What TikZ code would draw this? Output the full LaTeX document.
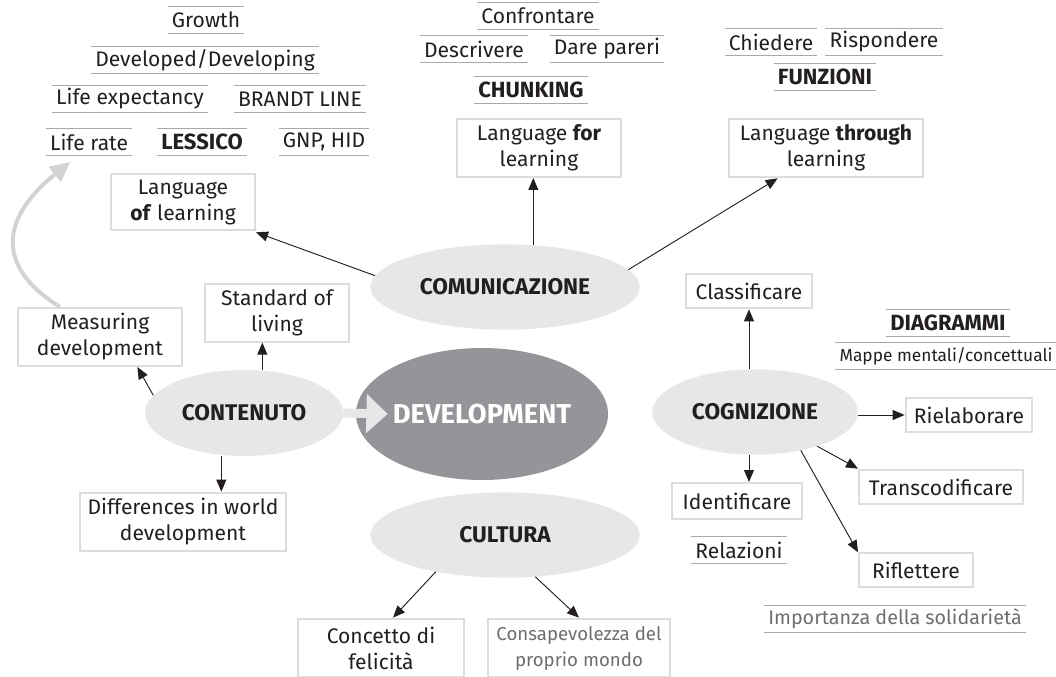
\documentclass[tikz,border=0pt]{standalone}
\usepackage{fontspec}
\setmainfont{Fira Sans}
\usetikzlibrary{positioning,arrows.meta,shapes.geometric}

\definecolor{bubble}{HTML}{E6E7E8}
\definecolor{core}{HTML}{939598}
\definecolor{boxline}{HTML}{DCDDDE}
\definecolor{rulegray}{HTML}{A7A9AC}
\definecolor{curvegray}{HTML}{D1D3D4}
\definecolor{ink}{HTML}{231F20}
\definecolor{softink}{HTML}{6D6E71}

\newcommand\mapfont{\fontsize{15.8}{19.5}\selectfont}
\newcommand\mapbold{\fontsize{16.5}{19.5}\selectfont\bfseries}

\begin{document}
\begin{tikzpicture}[
  x=0.75pt, y=-0.75pt,
  font=\mapfont, text=ink,
  bubblenode/.style={ellipse, fill=bubble, inner sep=0pt, font=\fontsize{17}{20}\selectfont\bfseries},
  corenode/.style={ellipse, fill=core, inner sep=0pt, text=white, font=\fontsize{20.5}{24}\selectfont\bfseries},
  boxnode/.style={rectangle, draw=boxline, line width=1.5pt, align=center, inner sep=1pt},
  wordnode/.style={inner xsep=3pt, inner ysep=0pt, minimum height=19.5pt},
  rule/.style={draw=rulegray, line width=0.6pt},
  arrow/.style={draw=ink, line width=0.7pt, -{Triangle[length=9pt,width=7.5pt]}},
  fatarrow/.style={draw=bubble, line width=6.75pt, -{Triangle[length=16pt,width=28.5pt]}},
  curvearrow/.style={draw=curvegray, line width=3pt, -{Triangle[length=15pt,width=14pt]}}
]
\useasboundingbox (0,0) rectangle (1056,677);

%Ellipses
\node[bubblenode, minimum width=202pt, minimum height=64pt] (comm) at (505,287) {COMUNICAZIONE};
\node[bubblenode, minimum width=148.5pt, minimum height=64.5pt] (cont) at (244,413) {CONTENUTO};
\node[bubblenode, minimum width=154pt, minimum height=64pt] (cogn) at (755,412) {COGNIZIONE};
\node[bubblenode, minimum width=202pt, minimum height=64pt] (cult) at (505,535) {CULTURA};
\node[corenode, minimum width=188pt, minimum height=99pt] (dev) at (482,414) {DEVELOPMENT};

%Boxes
\node[boxnode, minimum width=108pt, minimum height=42pt] (langof) at (183,202) {Language\\\textbf{of} learning};
\node[boxnode, minimum width=123pt, minimum height=43.5pt] (langfor) at (539,148) {Language \textbf{for}\\learning};
\node[boxnode, minimum width=145pt, minimum height=44pt] (langthr) at (826,148) {Language \textbf{through}\\learning};

\node[boxnode, minimum width=123pt, minimum height=43.5pt] (meas) at (100,337) {Measuring\\development};
\node[boxnode, minimum width=108pt, minimum height=43pt] (std) at (277,313) {Standard of\\living};
\node[boxnode, minimum width=154.5pt, minimum height=44pt] (diff) at (183,522) {Differences in world\\development};

\node[boxnode, minimum width=94.5pt, minimum height=26pt] (class) at (749,291) {Classificare};
\node[boxnode, minimum width=95pt, minimum height=26pt] (riel) at (969,415) {Rielaborare};
\node[boxnode, minimum width=97pt, minimum height=27pt] (ident) at (737,501) {Identificare};
\node[boxnode, minimum width=123pt, minimum height=26pt] (trans) at (941,487) {Transcodificare};
\node[boxnode, minimum width=85.5pt, minimum height=25pt] (rifl) at (916,570) {Riflettere};

\node[boxnode, minimum width=124pt, minimum height=44pt] (conc) at (381,648) {Concetto di\\felicità};
\node[boxnode, minimum width=137pt, minimum height=44pt, text=softink, font=\fontsize{14}{19.5}\selectfont] (consap) at (579,648) {Consapevolezza del\\proprio mondo};

%Words
\node[wordnode] (growth) at (206,20) {Growth};
\node[wordnode] (devdev) at (205,60) {Developed/Developing};
\node[wordnode] (lifeexp) at (130,99) {Life expectancy};
\node[wordnode] (brandt) at (300,99) {BRANDT LINE};
\node[wordnode] (liferate) at (89,142) {Life rate};
\node[wordnode, font=\mapbold] (lessico) at (202,142) {LESSICO};
\node[wordnode] (gnp) at (324,142) {GNP, HID};

\node[wordnode] (confr) at (538,16) {Confrontare};
\node[wordnode] (descr) at (474,49) {Descrivere};
\node[wordnode] (pareri) at (607,49) {Dare pareri};
\node[wordnode, font=\mapbold] (chunk) at (531,90) {CHUNKING};

\node[wordnode] (chied) at (771,42) {Chiedere};
\node[wordnode] (risp) at (884,42) {Rispondere};
\node[wordnode, font=\mapbold] (funz) at (825,77) {FUNZIONI};

\node[wordnode, font=\mapbold] (diagr) at (948,323) {DIAGRAMMI};
\node[wordnode, font=\fontsize{13}{15}\selectfont] (mappe) at (946,356) {Mappe mentali/concettuali};
\node[wordnode] (relaz) at (739,550) {Relazioni};
\node[wordnode, text=softink, font=\fontsize{14.8}{16}\selectfont] (solid) at (895,619) {Importanza della solidarietà};

\foreach \w in {growth,devdev,lifeexp,brandt,liferate,lessico,gnp,confr,descr,pareri,chunk,chied,risp,funz,diagr,mappe,relaz,solid}
  \draw[rule] (\w.north west) -- (\w.north east) (\w.south west) -- (\w.south east);

%Arrows
\draw[fatarrow] (cont.east) -- ([xshift=24pt]dev.west);
\draw[curvearrow] ([xshift=-30pt]meas.north) .. controls (-12,262) and (8,212) .. ([xshift=-14pt,yshift=-5pt]liferate.south);

\draw[arrow] (comm.175) -- ([yshift=-1pt]langof.south east);
\draw[arrow] (comm.56) -- (comm.56 |- langfor.south);
\draw[arrow] (comm.8) -- ([xshift=37pt]langthr.south west);

\draw[arrow] (cont.169) -- ([xshift=28pt]meas.south);
\draw[arrow] ([xshift=-11pt]std.south |- cont.north) -- ([xshift=-11pt]std.south);
\draw[arrow] ([xshift=-17pt]cont.south) -- ([xshift=-17pt]cont.south |- diff.north);

\draw[arrow] (cogn.north -| class.south) -- (class.south);
\draw[arrow] (cogn.east |- riel.west) -- (riel.west);
\draw[arrow] ([xshift=9pt]ident.north |- cogn.south) -- ([xshift=9pt]ident.north);
\draw[arrow] (cogn) -- (trans.north west);
\draw[arrow] (cogn.-40) -- (rifl.north west);

\draw[arrow] (cult.208) -- ([xshift=9pt]conc.north);
\draw[arrow] (cult.-54) -- (consap.north);

\end{tikzpicture}
\end{document}
